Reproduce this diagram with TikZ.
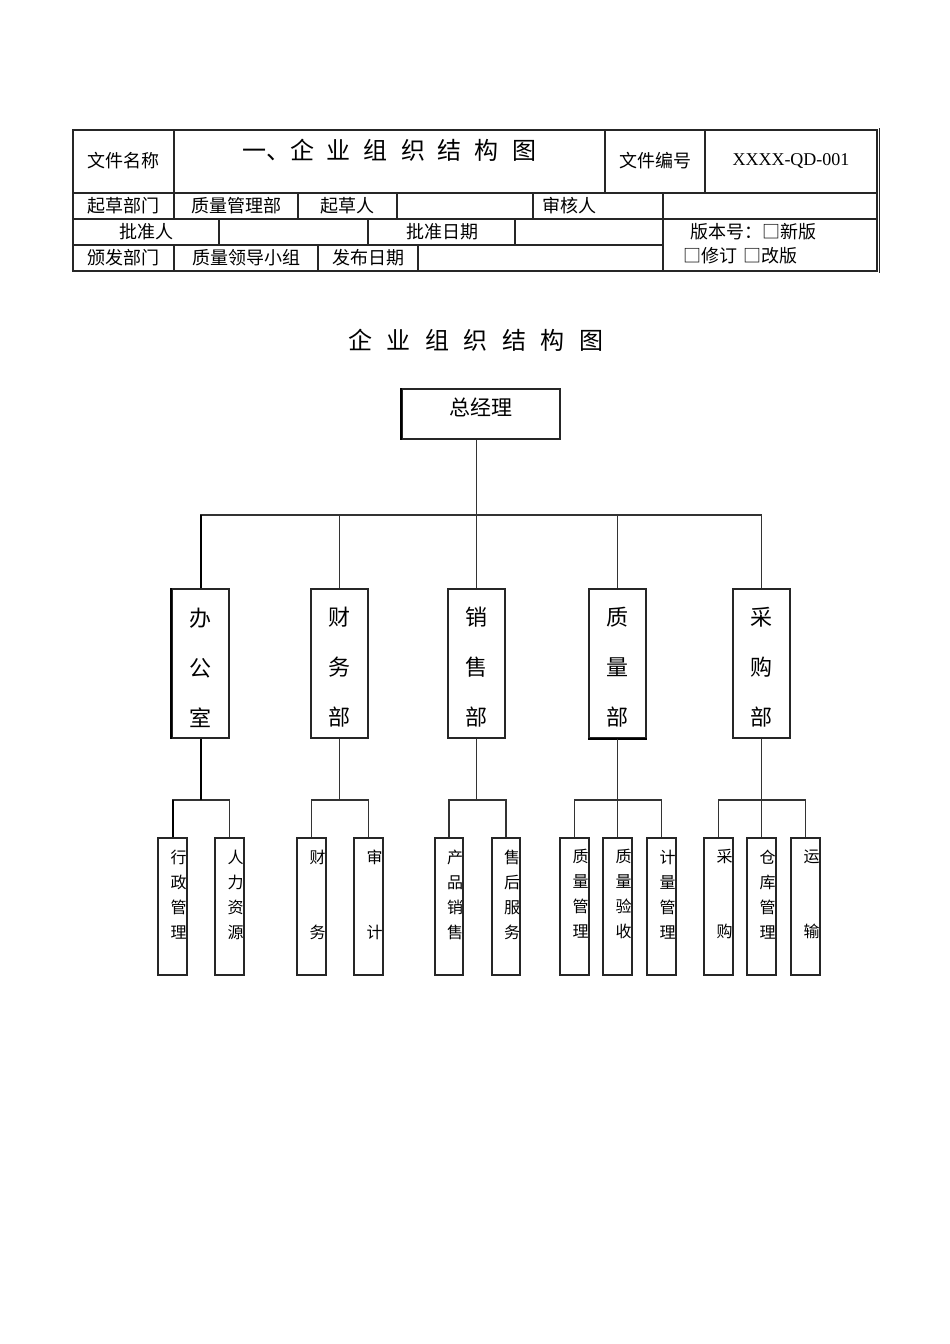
\documentclass[tikz,border=0pt]{standalone}
\usepackage{fontspec}
\setmainfont{Liberation Serif}
\newfontfamily\cjk{Noto Sans CJK SC}
\usetikzlibrary{positioning}

\tikzset{
  tab/.style={draw=black!85, line width=1.2pt},
  cell/.style={inner sep=0pt, font=\cjk\fontsize{18}{18}\selectfont},
  head/.style={inner sep=0pt, font=\cjk\fontsize{24}{24}\selectfont},
  boss/.style={draw=black!85, line width=1.2pt, minimum width=158pt, minimum height=50pt, inner sep=0pt},
  dept/.style={draw=black!85, line width=1.2pt, minimum width=57pt, minimum height=149pt, inner sep=0pt},
  depttext/.style={anchor=center, inner sep=0pt, yshift=-4pt, align=center, font=\cjk\fontsize{22}{50}\selectfont},
  unit/.style={draw=black!85, line width=1.2pt, minimum width=29pt, minimum height=137pt, inner sep=0pt},
  unittext/.style={anchor=north, inner sep=0pt, align=center, font=\cjk\fontsize{16}{25}\selectfont},
  conn/.style={draw=black!80, line width=1.2pt},
}

\begin{document}
\begin{tikzpicture}[x=1pt,y=-1pt]
\useasboundingbox[fill=white] (0,0) rectangle (950,1344);

% header table
\draw[tab] (73,130) rectangle (877,271);
\draw[tab] (879.5,128) -- (879.5,273);
\draw[tab] (73,193) -- (877,193);
\draw[tab] (73,219) -- (877,219);
\draw[tab] (73,245) -- (663,245);
\draw[tab] (174,130) -- (174,219);\draw[tab] (605,130) -- (605,193);\draw[tab] (705,130) -- (705,193);
\draw[tab] (298,193) -- (298,219);\draw[tab] (397,193) -- (397,219);\draw[tab] (533,193) -- (533,219);
\draw[tab] (663,193) -- (663,271);
\draw[tab] (219,219) -- (219,245);\draw[tab] (368,219) -- (368,245);\draw[tab] (515,219) -- (515,245);
\draw[tab] (174,245) -- (174,271);\draw[tab] (318,245) -- (318,271);\draw[tab] (418,245) -- (418,271);

\node[cell] (fname) at (123,161) {文件名称};
\node[head] (ftitle) at (389,150) {一、企\hspace{13pt}业\hspace{13pt}组\hspace{13pt}织\hspace{13pt}结\hspace{13pt}构\hspace{13pt}图};
\node[cell] (fno) at (655,161) {文件编号};
\node[inner sep=0pt, font=\fontsize{18}{18}\selectfont] (fcode) at (791,161) {XXXX-QD-001};
\node[cell] (dept1) at (123,206) {起草部门};
\node[cell] (dept1v) at (236,206) {质量管理部};
\node[cell] (drafter) at (347,206) {起草人};
\node[cell, anchor=west] (checker) at (542,206) {审核人};
\node[cell] (approver) at (146,232) {批准人};
\node[cell] (appdate) at (442,232) {批准日期};
\node[cell] (issuer) at (123,258) {颁发部门};
\node[cell] (issuerv) at (246,258) {质量领导小组};
\node[cell] (issdate) at (368,258) {发布日期};
\node[cell, anchor=west] (ver1) at (690,232) {版本号：□新版};
\node[cell, anchor=west] (ver2) at (683,256) {□修订\hspace{6pt}□改版};

% chart title
\node[head] (title) at (476,340) {企\hspace{14.5pt}业\hspace{14.5pt}组\hspace{14.5pt}织\hspace{14.5pt}结\hspace{14.5pt}构\hspace{14.5pt}图};

% general manager
\node[boss] (gm) at (481,414) {};
\node[inner sep=0pt, font=\cjk\fontsize{21}{21}\selectfont] (gmtext) at (481,407) {总经理};
\draw[line width=2pt] (gm.north west) -- (gm.south west);

% departments
\node[dept] (office) at (200.5,663.5) {};
\node[dept] (finance) at (339.5,663.5) {};
\node[dept] (sales) at (476.5,663.5) {};
\node[dept] (quality) at (617.5,663.5) {};
\node[dept] (purchase) at (761.5,663.5) {};
\node[depttext] (officet) at (office) {办\\公\\室};
\node[depttext] (financet) at (finance) {财\\务\\部};
\node[depttext] (salest) at (sales) {销\\售\\部};
\node[depttext] (qualityt) at (quality) {质\\量\\部};
\node[depttext] (purchaset) at (purchase) {采\\购\\部};
\draw[line width=2pt] (office.north west) -- (office.south west);
\draw[line width=2pt] (quality.south west) -- (quality.south east);

\coordinate (bus) at (0,515);
\draw[conn] (sales.north) -- (sales.north |- gm.south);
\draw[conn] (office.north) -- (office.north |- bus) -- (purchase.north |- bus) -- (purchase.north);
\draw[conn] (finance.north) -- (finance.north |- bus);
\draw[conn] (quality.north) -- (quality.north |- bus);
\draw[line width=2pt] (office.north) -- (office.north |- bus);

% units
\node[unit] (admin) at (172.5,906.5) {};
\node[unit] (hr) at (229.5,906.5) {};
\node[unit] (acct) at (311.5,906.5) {};
\node[unit] (audit) at (368.5,906.5) {};
\node[unit, minimum width=28pt] (prodsale) at (449,906.5) {};
\node[unit, minimum width=28pt] (service) at (506,906.5) {};
\node[unit] (qmgmt) at (574.5,906.5) {};
\node[unit] (qcheck) at (617.5,906.5) {};
\node[unit] (metro) at (661.5,906.5) {};
\node[unit] (buy) at (718.5,906.5) {};
\node[unit] (store) at (761.5,906.5) {};
\node[unit] (ship) at (805.5,906.5) {};

\node[unittext] (admint) at ([xshift=6pt,yshift=-12pt]admin.north) {行\\政\\管\\理};
\node[unittext] (hrt) at ([xshift=6pt,yshift=-12pt]hr.north) {人\\力\\资\\源};
\node[unittext] (acctt) at ([xshift=6pt,yshift=-12pt]acct.north) {财\\[50pt]务};
\node[unittext] (auditt) at ([xshift=6pt,yshift=-12pt]audit.north) {审\\[50pt]计};
\node[unittext] (prodsalet) at ([xshift=6pt,yshift=-12pt]prodsale.north) {产\\品\\销\\售};
\node[unittext] (servicet) at ([xshift=6pt,yshift=-12pt]service.north) {售\\后\\服\\务};
\node[unittext] (qmgmtt) at ([xshift=6pt,yshift=-12pt]qmgmt.north) {质\\量\\管\\理};
\node[unittext] (qcheckt) at ([xshift=6pt,yshift=-12pt]qcheck.north) {质\\量\\验\\收};
\node[unittext] (metrot) at ([xshift=6pt,yshift=-12pt]metro.north) {计\\量\\管\\理};
\node[unittext] (buyt) at ([xshift=6pt,yshift=-12pt]buy.north) {采\\[50pt]购};
\node[unittext] (storet) at ([xshift=6pt,yshift=-12pt]store.north) {仓\\库\\管\\理};
\node[unittext] (shipt) at ([xshift=6pt,yshift=-12pt]ship.north) {运\\[50pt]输};

\coordinate (sbus) at (0,800);
\draw[conn] (office.south) -- (office.south |- sbus);
\draw[conn] (admin.north) -- (admin.north |- sbus) -- (hr.north |- sbus) -- (hr.north);
\draw[line width=2pt] (office.south) -- (office.south |- sbus);
\draw[line width=2pt] (admin.north) -- (admin.north |- sbus);
\draw[conn] (finance.south) -- (finance.south |- sbus);
\draw[conn] (acct.north) -- (acct.north |- sbus) -- (audit.north |- sbus) -- (audit.north);
\draw[conn] (sales.south) -- (sales.south |- sbus);
\draw[conn] (prodsale.north) -- (prodsale.north |- sbus) -- (service.north |- sbus) -- (service.north);
\draw[conn] (quality.south) -- (qcheck.north);
\draw[conn] (qmgmt.north) -- (qmgmt.north |- sbus) -- (metro.north |- sbus) -- (metro.north);
\draw[conn] (purchase.south) -- (store.north);
\draw[conn] (buy.north) -- (buy.north |- sbus) -- (ship.north |- sbus) -- (ship.north);
\end{tikzpicture}
\end{document}
